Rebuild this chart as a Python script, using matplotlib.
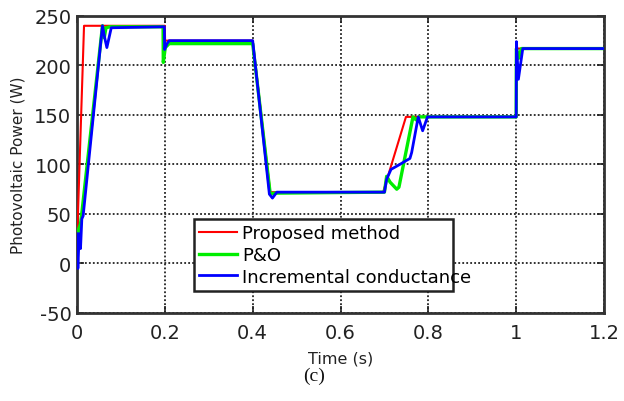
import matplotlib
matplotlib.use("Agg")
import matplotlib.pyplot as plt
from matplotlib.patches import Rectangle

# Breakpoints of the photovoltaic power traces (time in s, power in W)
proposed_t = [0.0, 0.016, 0.2, 0.2005, 0.4, 0.44, 0.697, 0.749, 1.0, 1.0005, 1.2]
proposed_p = [20, 240, 240, 225, 225, 72, 72, 148, 148, 217, 217]

po_t = [0.0, 0.004, 0.008, 0.012, 0.058, 0.062, 0.066, 0.075, 0.196, 0.1965,
        0.201, 0.21, 0.4, 0.44, 0.45, 0.7, 0.705, 0.713, 0.728, 0.733, 0.765,
        0.772, 0.778, 1.0, 1.0005, 1.005, 1.012, 1.2]
po_p = [20, 35, 40, 55, 240, 228, 238, 239, 239, 203, 218, 222, 222, 70, 71,
        72, 88, 82, 75, 77, 148, 145, 148, 148, 217, 207, 217, 217]

ic_t = [0.0, 0.002, 0.005, 0.008, 0.011, 0.014, 0.058, 0.063, 0.068, 0.078,
        0.199, 0.1995, 0.205, 0.21, 0.4, 0.438, 0.445, 0.455, 0.7, 0.705, 0.715,
        0.735, 0.75, 0.758, 0.762, 0.777, 0.787, 0.798, 1.0, 1.0005, 1.005,
        1.015, 1.2]
ic_p = [30, -5, 30, 15, 45, 48, 240, 228, 218, 238, 239, 216, 222, 225, 225,
        70, 66, 72, 72, 85, 95, 100, 104, 106, 112, 148, 134, 148, 148, 224,
        186, 217, 217]

series_names = ["Proposed method", "P&O", "Incremental conductance"]
x_ticks = [0, 0.2, 0.4, 0.6, 0.8, 1.0, 1.2]
x_tick_labels = ["0", "0.2", "0.4", "0.6", "0.8", "1", "1.2"]
y_ticks = [-50, 0, 50, 100, 150, 200, 250]

plt.rcParams["font.family"] = ["DejaVu Sans"]
plt.rcParams["axes.unicode_minus"] = False

fig = plt.figure(figsize=(6.24, 4.02), dpi=100)
ax = fig.add_axes([0.1234, 0.219, 0.8446, 0.739])

ax.plot(proposed_t, proposed_p, color="#ff0000", lw=1.5, label=series_names[0], zorder=3)
ax.plot(po_t, po_p, color="#00ee00", lw=2.4, label=series_names[1], zorder=4)
ax.plot(ic_t, ic_p, color="#0000ff", lw=2.0, label=series_names[2], zorder=5)

ax.set_xlim(0, 1.2)
ax.set_ylim(-50, 250)
ax.set_xticks(x_ticks)
ax.set_xticklabels(x_tick_labels)
ax.set_yticks(y_ticks)
ax.tick_params(axis="both", direction="in", length=5, width=1.2, labelsize=14,
               top=True, right=True, colors="#222222")
ax.tick_params(axis="x", pad=7)
ax.tick_params(axis="y", pad=4)

ax.grid(True, color="#222222", linestyle=(0, (1.0, 1.2)), linewidth=1.3)
ax.set_axisbelow(True)
for sp in ax.spines.values():
    sp.set_color("#333333")
    sp.set_linewidth(2.0)

ax.set_xlabel("Time (s)", fontsize=11.5, color="#222222", labelpad=6)
ax.set_ylabel("Photovoltaic Power (W)", fontsize=11, color="#222222", labelpad=6)

# Legend box is narrower than the longest entry, so the frame is drawn separately
box = Rectangle((0.222, 0.074), 0.4915, 0.2425, transform=ax.transAxes,
                facecolor="white", edgecolor="#222222", linewidth=1.8, zorder=9)
ax.add_patch(box)
leg = ax.legend(loc="upper left", bbox_to_anchor=(0.222, 0.3165), borderaxespad=0,
                fontsize=13, handlelength=2.1, handletextpad=0.25,
                labelspacing=0.2, borderpad=0.3, frameon=False)
leg.set_zorder(10)

fig.text(0.503, 0.065, "(c)", fontsize=14, family="Liberation Serif",
         ha="center", va="center", color="#111111")

fig.savefig("out.png", dpi=100)
